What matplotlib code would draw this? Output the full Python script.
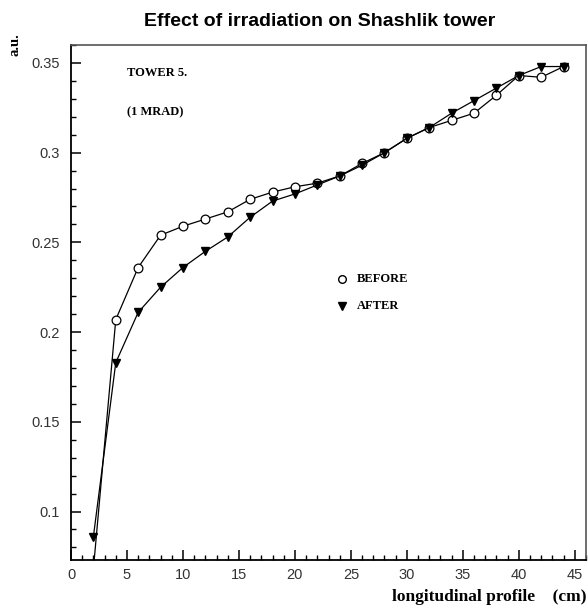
import matplotlib
matplotlib.use("Agg")
import matplotlib.pyplot as plt
from matplotlib.ticker import MultipleLocator, FixedLocator

# Data
x_before = [2, 4, 6, 8, 10, 12, 14, 16, 18, 20, 22, 24, 26, 28, 30, 32, 34, 36, 38, 40, 42, 44]
y_before = [0.068, 0.207, 0.236, 0.254, 0.259, 0.263, 0.267, 0.274, 0.278, 0.281, 0.283, 0.287,
            0.294, 0.300, 0.308, 0.314, 0.318, 0.322, 0.332, 0.343, 0.342, 0.348]
x_after = [2, 4, 6, 8, 10, 12, 14, 16, 18, 20, 22, 24, 26, 28, 30, 32, 34, 36, 38, 40, 42, 44]
y_after = [0.086, 0.183, 0.211, 0.225, 0.236, 0.245, 0.253, 0.264, 0.273, 0.277, 0.282, 0.287,
           0.293, 0.300, 0.308, 0.314, 0.322, 0.329, 0.336, 0.343, 0.348, 0.348]
x_ticks = [0, 5, 10, 15, 20, 25, 30, 35, 40, 45]
y_ticks = [0.1, 0.15, 0.2, 0.25, 0.3, 0.35]
y_ticklabels = ["0.1", "0.15", "0.2", "0.25", "0.3", "0.35"]

fig = plt.figure(figsize=(5.88, 6.05), dpi=100)
ax = fig.add_axes([71/588, 1 - 560/605, (586 - 71)/588, (560 - 45)/605])

ax.plot(x_before, y_before, color="black", lw=0.9, marker="o", ms=6.3,
        mfc="white", mec="black", mew=0.9, zorder=3)
ax.plot(x_after, y_after, color="black", lw=0.9, marker="v", ms=6.3,
        mfc="black", mec="black", zorder=4)

ax.set_xlim(0, 46)
ax.set_ylim(0.073, 0.36)
ax.xaxis.set_major_locator(FixedLocator(x_ticks))
ax.xaxis.set_minor_locator(MultipleLocator(1))
ax.yaxis.set_major_locator(FixedLocator(y_ticks))
ax.set_yticklabels(y_ticklabels)
ax.yaxis.set_minor_locator(MultipleLocator(0.01))

ax.tick_params(which="both", direction="in", top=False, right=False, colors="black",
               labelsize=10.5)
ax.tick_params(which="major", length=7, width=1.1)
ax.tick_params(which="minor", length=3.5, width=1.0)
ax.tick_params(axis="x", pad=6)
ax.tick_params(axis="y", pad=8)
for lab in ax.get_xticklabels() + ax.get_yticklabels():
    lab.set_fontfamily("Liberation Sans")
    lab.set_color("#333333")

for s in ["left", "bottom"]:
    ax.spines[s].set_linewidth(1.3)
    ax.spines[s].set_color("black")
for s in ["top", "right"]:
    ax.spines[s].set_linewidth(1.2)
    ax.spines[s].set_color("#555555")

serif = "Liberation Serif"
fig.text(320/588, 1 - 22/605, "Effect of irradiation on Shashlik tower", ha="center",
         va="center", fontsize=14, fontweight="bold", family="Liberation Sans")
fig.text(15/588, 1 - 45/605, "a.u.", rotation=90, ha="center", va="center",
         fontsize=10.5, fontweight="bold", family=serif)
fig.text(586/588, 1 - 597/605, "longitudinal profile    (cm)", ha="right", va="center",
         fontsize=12.5, fontweight="bold", family=serif)


def px_to_data(px, py):
    inv = ax.transData.inverted()
    disp = fig.transFigure.transform((px/588, 1 - py/605))
    return inv.transform(disp)


tx, ty = px_to_data(127, 73)
ax.text(tx, ty, "TOWER 5.", ha="left", va="center", fontsize=9, fontweight="bold", family=serif)
tx, ty = px_to_data(127, 112)
ax.text(tx, ty, "(1 MRAD)", ha="left", va="center", fontsize=9, fontweight="bold", family=serif)

lx, ly1 = px_to_data(342, 279)
_, ly2 = px_to_data(342, 306)
tx2, _ = px_to_data(357, 279)
ax.plot([lx], [ly1], marker="o", ms=5.5, mfc="white", mec="black", mew=1.0, ls="none")
ax.plot([lx], [ly2], marker="v", ms=5.5, mfc="black", mec="black", ls="none")
ax.text(tx2, ly1, "BEFORE", ha="left", va="center", fontsize=9, fontweight="bold", family=serif)
ax.text(tx2, ly2, "AFTER", ha="left", va="center", fontsize=9, fontweight="bold", family=serif)

fig.savefig("out.png", dpi=100)
